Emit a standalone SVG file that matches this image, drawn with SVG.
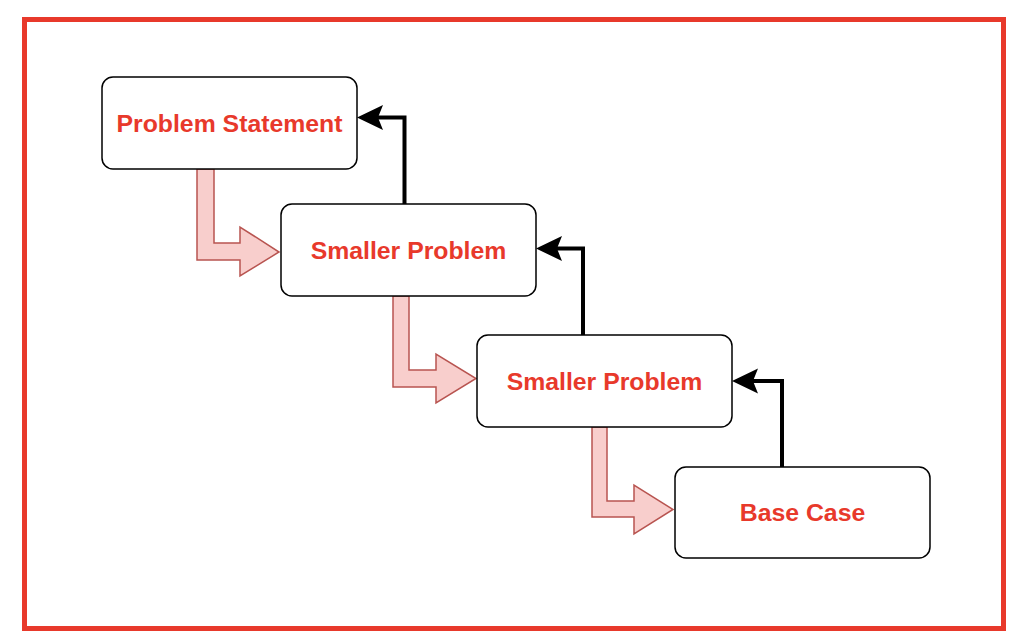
<svg xmlns="http://www.w3.org/2000/svg" width="1024" height="644" viewBox="0 0 1024 644">
<style>
.box{fill:#fff;stroke:#000;stroke-width:1.5}
.lbl{font-family:"Liberation Sans",Arial,sans-serif;font-weight:bold;font-size:24.8px;fill:#e8392b;text-anchor:middle}
.pink{fill:#f8cecc;stroke:#b85450;stroke-width:1.5;stroke-linejoin:miter}
.up{fill:none;stroke:#000;stroke-width:4;marker-end:url(#ah)}
</style>
<defs>
<marker id="ah" markerUnits="userSpaceOnUse" markerWidth="30" markerHeight="30" refX="5" refY="0" viewBox="-2 -15 30 30" orient="auto">
<path d="M0,-12.5 L26,0 L0,12.5 L5,0 Z" fill="#000"/>
</marker>
</defs>
<rect x="24.5" y="19.5" width="979" height="609" fill="#fff" stroke="#e8392b" stroke-width="5"/>
<g id="connectors">
<polygon class="pink" points="197,169 214,169 214,243 240,243 240,227 279,252 240,276 240,260 197,260"/>
<polygon class="pink" points="393,296 409,296 409,370 436,370 436,354 476,378.5 436,403 436,387 393,387"/>
<polygon class="pink" points="592,427 607,427 607,501 634,501 634,485 673,509.5 634,534 634,517 592,517"/>
<path class="up" d="M404.5,204 V117.5 H378"/>
<path class="up" d="M583,335 V248.5 H557"/>
<path class="up" d="M782,467 V381 H753"/>
</g>
<g id="n1"><rect class="box" x="102" y="77" width="255" height="92" rx="11"/><text class="lbl" x="229.5" y="131.5">Problem Statement</text></g>
<g id="n2"><rect class="box" x="281" y="204" width="255" height="92" rx="11"/><text class="lbl" x="408.5" y="258.5">Smaller Problem</text></g>
<g id="n3"><rect class="box" x="477" y="335" width="255" height="92" rx="11"/><text class="lbl" x="604.5" y="389.5">Smaller Problem</text></g>
<g id="n4"><rect class="box" x="675" y="467" width="255" height="91" rx="11"/><text class="lbl" x="802.5" y="521">Base Case</text></g>
</svg>
